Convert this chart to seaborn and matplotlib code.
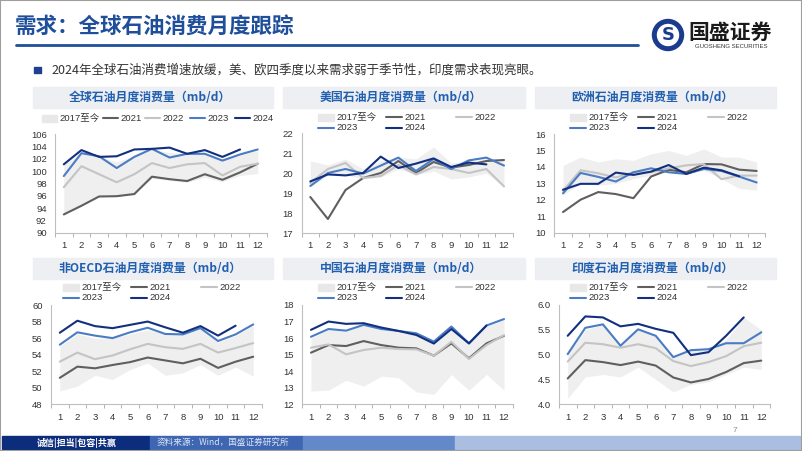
import numpy as np
import pandas as pd
import matplotlib
matplotlib.use("Agg")
import matplotlib.pyplot as plt
import seaborn as sns
from matplotlib.patches import Rectangle, Ellipse
from matplotlib.lines import Line2D


# ─────────────────────────────────────────────
# DATA (mb/d)
# ─────────────────────────────────────────────
months = list(range(1, 13))
years = ["2021", "2022", "2023", "2024"]
band_label = "2017至今"

titles = [
    "全球石油月度消费量（mb/d）", "美国石油月度消费量（mb/d）", "欧洲石油月度消费量（mb/d）",
    "非OECD石油月度消费量（mb/d）", "中国石油月度消费量（mb/d）", "印度石油月度消费量（mb/d）",
]

# global
global_low = [93.0, 94.4, 95.9, 95.9, 96.2, 98.8, 98.5, 98.2, 99.0, 98.3, 99.3, 99.6]
global_high = [101.0, 103.0, 102.3, 101.5, 102.5, 103.5, 103.0, 102.8, 103.0, 102.0, 102.8, 103.3]
global_2021 = [93.0, 94.4, 95.9, 95.95, 96.3, 99.1, 98.7, 98.4, 99.5, 98.6, 99.8, 101.2]
global_2022 = [97.4, 100.8, 99.5, 98.2, 99.5, 101.3, 100.5, 101.1, 101.3, 99.3, 100.7, 101.2]
global_2023 = [99.2, 102.9, 102.4, 100.5, 102.3, 103.6, 102.2, 102.8, 102.8, 101.7, 102.7, 103.5]
global_2024 = [101.1, 103.4, 102.3, 102.4, 103.5, 103.6, 103.8, 102.8, 103.4, 102.3, 103.5, np.nan]

# US
us_low = [19.3, 19.9, 19.9, 19.7, 19.8, 20.2, 19.9, 20.1, 19.7, 19.8, 20.0, 19.3]
us_high = [20.6, 20.4, 20.7, 20.2, 20.6, 20.8, 20.7, 21.3, 20.5, 20.6, 20.7, 20.7]
us_2021 = [18.8, 17.7, 19.15, 19.75, 20.0, 20.6, 20.0, 20.55, 20.27, 20.4, 20.6, 20.65]
us_2022 = [19.5, 20.2, 20.5, 19.75, 19.85, 20.4, 19.93, 20.3, 20.2, 20.0, 20.2, 19.33]
us_2023 = [19.35, 20.0, 20.2, 19.97, 20.37, 20.77, 20.1, 20.7, 20.2, 20.63, 20.77, 20.37]
us_2024 = [19.58, 19.93, 19.88, 20.0, 20.82, 20.25, 20.47, 20.73, 20.3, 20.52, 20.43, np.nan]

# Europe
eu_low = [12.3, 13.0, 12.9, 13.0, 13.3, 13.5, 13.7, 13.6, 13.8, 13.3, 12.7, 12.6]
eu_high = [14.1, 14.6, 14.3, 14.5, 14.4, 14.8, 15.0, 14.7, 15.1, 14.6, 14.6, 14.3]
eu_2021 = [11.27, 12.02, 12.48, 12.36, 12.11, 13.42, 13.83, 13.68, 14.18, 14.16, 13.84, 13.76]
eu_2022 = [12.56, 13.8, 13.62, 13.36, 13.68, 13.68, 13.92, 14.1, 14.18, 13.26, 13.48, 13.48]
eu_2023 = [12.4, 13.64, 13.4, 13.12, 13.68, 13.92, 13.68, 13.58, 13.88, 13.76, 13.42, 13.06]
eu_2024 = [12.62, 12.98, 12.98, 13.66, 13.52, 13.72, 14.12, 13.58, 13.96, 13.8, 13.44, np.nan]

# non-OECD
noecd_low = [49.6, 50.2, 51.5, 51.0, 52.2, 53.0, 51.5, 51.8, 52.8, 51.5, 52.5, 51.4]
noecd_high = [55.0, 56.5, 56.0, 56.0, 56.5, 57.0, 56.5, 56.5, 57.0, 55.5, 56.3, 57.5]
noecd_2021 = [51.2, 52.55, 52.35, 52.75, 53.1, 53.65, 53.3, 52.95, 53.5, 52.4, 53.15, 53.75]
noecd_2022 = [53.15, 54.25, 53.45, 53.9, 54.65, 55.3, 54.9, 54.7, 55.3, 54.25, 54.8, 55.4]
noecd_2023 = [55.2, 56.7, 56.3, 56.0, 56.7, 57.25, 56.5, 56.45, 57.2, 55.65, 56.45, 57.65]
noecd_2024 = [56.65, 58.1, 57.45, 57.2, 57.6, 58.0, 57.3, 56.65, 57.45, 56.3, 57.5, np.nan]

# China
cn_low = [12.8, 12.85, 13.45, 13.1, 13.7, 13.6, 12.75, 12.6, 13.8, 12.85, 13.8, 12.85]
cn_high = [16.0, 16.5, 16.4, 16.8, 16.5, 16.4, 16.3, 15.8, 16.6, 15.7, 16.7, 17.1]
cn_2021 = [15.12, 15.58, 15.52, 15.82, 15.58, 15.42, 15.38, 14.94, 15.68, 14.78, 15.68, 16.14]
cn_2022 = [15.42, 15.62, 15.02, 15.28, 15.42, 15.34, 15.32, 14.94, 15.78, 14.74, 15.58, 16.18]
cn_2023 = [16.08, 16.55, 16.45, 16.8, 16.55, 16.43, 16.29, 15.79, 16.7, 15.68, 16.76, 17.15]
cn_2024 = [16.5, 17.0, 16.86, 16.9, 16.64, 16.43, 16.19, 15.67, 16.55, 15.68, 16.76, np.nan]

# India
in_low = [4.12, 4.55, 4.6, 4.55, 4.75, 4.5, 4.25, 4.4, 4.45, 4.6, 4.75, 4.7]
in_high = [5.0, 5.5, 5.6, 5.2, 5.5, 5.4, 4.95, 5.1, 5.1, 5.3, 5.75, 5.5]
in_2021 = [4.52, 4.89, 4.85, 4.79, 4.86, 4.78, 4.54, 4.44, 4.51, 4.65, 4.83, 4.88]
in_2022 = [4.86, 5.24, 5.21, 5.14, 5.21, 5.13, 4.87, 4.77, 4.85, 4.97, 5.17, 5.24]
in_2023 = [5.01, 5.54, 5.61, 5.18, 5.51, 5.38, 4.95, 5.09, 5.11, 5.23, 5.23, 5.45]
in_2024 = [5.38, 5.77, 5.75, 5.57, 5.62, 5.52, 5.44, 4.99, 5.05, 5.38, 5.75, np.nan]

panels = [
    (global_low, global_high, [global_2021, global_2022, global_2023, global_2024], (90, 106), 2),
    (us_low, us_high, [us_2021, us_2022, us_2023, us_2024], (17, 22), 1),
    (eu_low, eu_high, [eu_2021, eu_2022, eu_2023, eu_2024], (10, 16), 1),
    (noecd_low, noecd_high, [noecd_2021, noecd_2022, noecd_2023, noecd_2024], (48, 60), 2),
    (cn_low, cn_high, [cn_2021, cn_2022, cn_2023, cn_2024], (12, 18), 1),
    (in_low, in_high, [in_2021, in_2022, in_2023, in_2024], (4.0, 6.0), 0.5),
]

# ─────────────────────────────────────────────
# STYLE
# ─────────────────────────────────────────────
sns.set_theme(style="white")
plt.rcParams["font.family"] = ["Liberation Sans", "Noto Sans CJK SC", "DejaVu Sans"]

W, H = 802, 451
palette = {"2021": "#5F5F5F", "2022": "#C4C4C4", "2023": "#4A7CC4", "2024": "#12307F"}
band_color = "#EFEFEF"
title_blue = "#1F4E9A"
panel_blue = "#2160B0"
cjk = ["Noto Sans CJK SC", "DejaVu Sans"]


def fx(x):
    return x / W


def fy(y):
    return 1 - y / H


fig = plt.figure(figsize=(W / 100, H / 100), dpi=100)
fig.patch.set_facecolor("white")

# ─────────────────────────────────────────────
# HEADER
# ─────────────────────────────────────────────
fig.text(fx(15), fy(26), "需求：全球石油消费月度跟踪", family=cjk, fontsize=15.5,
         fontweight="bold", color=title_blue, va="center", ha="left")
fig.add_artist(Line2D([fx(16), fx(638)], [fy(45), fy(45)], color=title_blue, lw=2.0,
                      transform=fig.transFigure))

# logo (circle mark + name)
fig.add_artist(Ellipse((fx(668), fy(35)), 31 / W, 31 / H, color="#1B3C8C",
                       transform=fig.transFigure))
fig.add_artist(Ellipse((fx(668), fy(35)), 21 / W, 21 / H, color="white",
                       transform=fig.transFigure))
fig.text(fx(668), fy(35.5), "S", fontsize=13, fontweight="bold", color="#1B3C8C",
         ha="center", va="center", family=["DejaVu Sans"])
fig.text(fx(688), fy(32), "国盛证券", family=cjk, fontsize=15, fontweight="bold",
         color="#1A1A1A", ha="left", va="center")
fig.text(fx(731), fy(46), "GUOSHENG SECURITIES", fontsize=4.3, color="#333333",
         ha="center", va="center")

# bullet
fig.add_artist(Rectangle((fx(34), fy(73)), 7 / W, 6 / H, color="#1F3F8F",
                         transform=fig.transFigure))
fig.text(fx(51), fy(70), "2024年全球石油消费增速放缓，美、欧四季度以来需求弱于季节性，印度需求表现亮眼。",
         family=cjk, fontsize=9, color="#333333", ha="left", va="center")

# ─────────────────────────────────────────────
# PANELS
# ─────────────────────────────────────────────
# (left, top, right, bottom) in pixels
axes_px = [
    (55, 134, 266.5, 233), (301.5, 133, 512.8, 233), (554.2, 134, 765.5, 233),
    (51, 305, 262, 404.3), (302.2, 305, 512.8, 404.3), (558.9, 305, 770.1, 404.3),
]
band_px = [(33, 273), (283, 525), (535, 776)]

for i, (low, high, series, ylim, step) in enumerate(panels):
    l, t, r, b = axes_px[i]
    ax = fig.add_axes([fx(l), fy(b), (r - l) / W, (b - t) / H])

    ax.fill_between(months, low, high, color=band_color, lw=0, zorder=0)

    df = pd.DataFrame({
        "month": months * len(years),
        "year": np.repeat(years, len(months)),
        "value": np.concatenate(series),
    }).dropna()
    sns.lineplot(data=df, x="month", y="value", hue="year", hue_order=years,
                 palette=palette, linewidth=1.5, legend=False, ax=ax)

    ax.set_xlim(0.5, 12.5)
    ax.set_ylim(*ylim)
    ax.set_xticks(months)
    ax.set_xticks(np.arange(0.5, 13, 1), minor=True)
    yt = np.arange(ylim[0], ylim[1] + step / 2, step)
    ax.set_yticks(yt)
    if step < 1:
        ax.set_yticklabels([f"{v:.1f}" for v in yt])
    else:
        ax.set_yticklabels([f"{v:.0f}" for v in yt])
    ax.set_xlabel("")
    ax.set_ylabel("")
    ax.tick_params(axis="both", which="major", length=0, labelsize=6.8,
                   labelcolor="#333333")
    ax.tick_params(axis="y", pad=6)
    ax.tick_params(axis="x", pad=6)
    ax.tick_params(axis="x", which="minor", length=3, color="#A6A6A6", width=0.6,
                   direction="out", bottom=True)
    for s in ["top", "right"]:
        ax.spines[s].set_visible(False)
    for s in ["left", "bottom"]:
        ax.spines[s].set_color("#BFBFBF")
        ax.spines[s].set_linewidth(0.8)
    ax.set_facecolor("none")

    # title band
    row = i // 3
    x0, x1 = band_px[i % 3]
    ty0, ty1 = (87, 108) if row == 0 else (258, 279)
    fig.add_artist(Rectangle((fx(x0), fy(ty1)), (x1 - x0) / W, (ty1 - ty0) / H,
                             color="#EEEFF2", transform=fig.transFigure, zorder=0))
    fig.text(fx((x0 + x1) / 2 - 3), fy((ty0 + ty1) / 2), titles[i], family=cjk,
             fontsize=8.6, fontweight="bold", color=panel_blue, ha="center", va="center")

    # legend (hand placed, Excel style)
    if i == 0:
        entries = [(band_label, 42, 118), ("2021", 103, 118), ("2022", 145, 118),
                   ("2023", 190, 118), ("2024", 235, 118)]
        hl = 15
    else:
        ox = x0 + 2 if i % 3 else x0 - 3
        ry1, ry2 = (117, 127.5) if row == 0 else (287, 297.5)
        entries = [(band_label, ox + 33, ry1), ("2021", ox + 101, ry1), ("2022", ox + 171, ry1),
                   ("2023", ox + 33, ry2), ("2024", ox + 101, ry2)]
        hl = 16
    for lab, hx, hy in entries:
        if lab == band_label:
            fig.add_artist(Rectangle((fx(hx), fy(hy + 3.5)), hl / W, 7 / H,
                                     color="#E8E8E8", transform=fig.transFigure))
        else:
            fig.add_artist(Line2D([fx(hx), fx(hx + hl)], [fy(hy), fy(hy)],
                                  color=palette[lab], lw=1.5, transform=fig.transFigure))
        fig.text(fx(hx + hl + 2), fy(hy), lab, fontsize=6.8, color="#333333",
                 ha="left", va="center")

# ─────────────────────────────────────────────
# FOOTER
# ─────────────────────────────────────────────
footer = [(2, 150, "#0B2D7C"), (150, 303, "#3E66B2"), (303, 455, "#6489C9"), (455, 800, "#A9BEE0")]
for a, bx, c in footer:
    fig.add_artist(Rectangle((fx(a), fy(449)), (bx - a) / W, 13 / H, color=c,
                             transform=fig.transFigure))
fig.text(fx(77), fy(442.5), "诚信|担当|包容|共赢", family=cjk, fontsize=6.5,
         fontweight="bold", color="white", ha="center", va="center")
fig.text(fx(223), fy(442.5), "资料来源：Wind，国盛证券研究所", family=cjk, fontsize=6.2,
         color="#DDE5F5", ha="center", va="center")
fig.text(fx(735), fy(430), "7", fontsize=6, color="#8C8C8C", ha="center", va="center")

# slide border
fig.add_artist(Rectangle((0, 0), 1, 1, fill=False, edgecolor="#9E9E9E", lw=1.5,
                         transform=fig.transFigure))

fig.savefig("out.png", dpi=100)
plt.close(fig)
